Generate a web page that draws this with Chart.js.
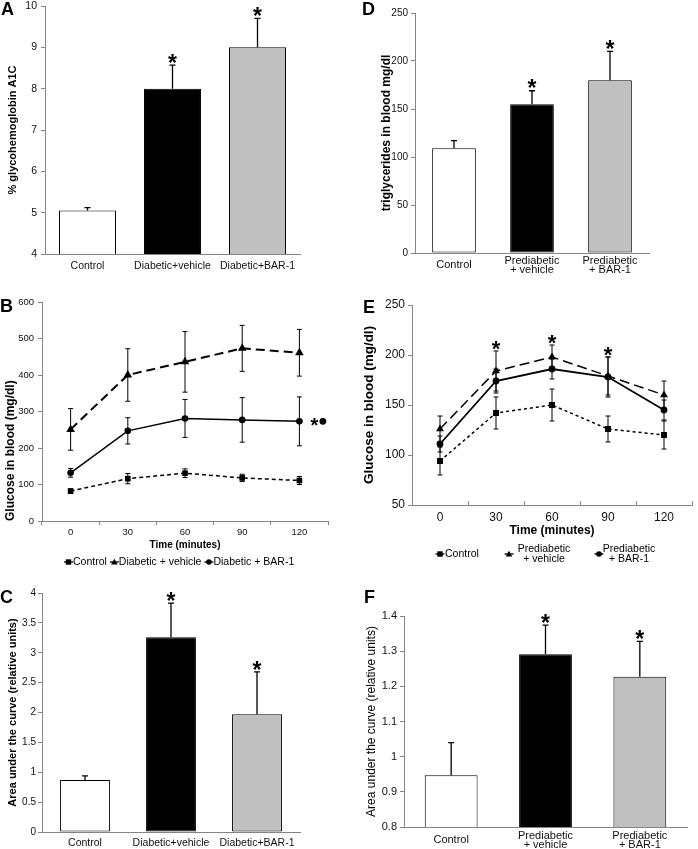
<!DOCTYPE html>
<html>
<head>
<meta charset="utf-8">
<script src="https://cdn.jsdelivr.net/npm/chart.js@4.4.1/dist/chart.umd.min.js"></script>
<style>
  html, body { margin: 0; padding: 0; background: #fff; }
  #wrap { position: relative; width: 698px; height: 849px; background: #fff; overflow: hidden; }
  canvas { position: absolute; }
</style>
</head>
<body>
<div id="wrap">
  <canvas id="panelA"></canvas>
  <canvas id="panelD"></canvas>
  <canvas id="panelB"></canvas>
  <canvas id="panelE"></canvas>
  <canvas id="panelC"></canvas>
  <canvas id="panelF"></canvas>
</div>
<script>
// ---- data ----
const diabeticGroups = ['Control', 'Diabetic+vehicle', 'Diabetic+BAR-1'];
const prediabeticGroups = ['Control', ['Prediabetic', '+ vehicle'], ['Prediabetic', '+ BAR-1']];
const timePoints = ['0', '30', '60', '90', '120'];

// A: glycohemoglobin
const hba1c = [5.05, 8.0, 9.0];
const hba1cErr = [0.07, 0.57, 0.7];
// D: triglycerides
const triglycerides = [109, 155, 180];
const triglyceridesErr = [8, 14, 30];
// C: AUC diabetic
const aucDiabetic = [0.87, 3.26, 1.97];
const aucDiabeticErr = [0.07, 0.57, 0.71];
// F: AUC prediabetic
const aucPrediabetic = [0.947, 1.291, 1.227];
const aucPrediabeticErr = [0.093, 0.083, 0.101];

// B: glucose tolerance, diabetic
const gttDiabControl = [82, 116, 131, 118, 111];
const gttDiabControlErr = [6, 14, 12, 10, 11];
const gttDiabVehicle = [251, 400, 436, 473, 461];
const gttDiabVehicleErr = [57, 72, 83, 63, 64];
const gttDiabBar1 = [132, 247, 281, 277, 273];
const gttDiabBar1Err = [12, 36, 52, 61, 67];

// E: glucose tolerance, prediabetic
const gttPreControl = [94, 142, 150, 126, 120];
const gttPreControlErr = [14, 16, 16, 13, 14];
const gttPreVehicle = [126, 184, 198, 179, 160];
const gttPreVehicleErr = [13, 20, 12, 19, 14];
const gttPreBar1 = [111, 174, 186, 178, 145];
const gttPreBar1Err = [8, 12, 10, 20, 10];

const barFills = ['#ffffff', '#000000', '#c0c0c0'];
const FONT = "'Liberation Sans', Arial, Helvetica, sans-serif";
const AXIS = '#858585';

Chart.defaults.font.family = FONT;
Chart.defaults.color = '#1a1a1a';
Chart.defaults.animation = false;
Chart.defaults.plugins.legend.display = false;
Chart.defaults.plugins.tooltip.enabled = false;

// ---- plugins ----
const errorBars = {
  id: 'errorBars',
  afterDatasetsDraw(chart) {
    const ctx = chart.ctx;
    const yScale = chart.scales.y;
    chart.data.datasets.forEach((ds, i) => {
      if (!ds.err) return;
      const meta = chart.getDatasetMeta(i);
      const cap = ds.errCap || 3;
      ctx.save();
      ctx.strokeStyle = '#000';
      ctx.lineWidth = ds.errWidth || 1;
      meta.data.forEach((el, j) => {
        const v = ds.data[j], e = ds.err[j];
        const yTop = yScale.getPixelForValue(v + e);
        const yBot = yScale.getPixelForValue(ds.errUpOnly ? v : v - e);
        ctx.beginPath();
        ctx.moveTo(el.x, yTop); ctx.lineTo(el.x, yBot);
        ctx.moveTo(el.x - cap, yTop); ctx.lineTo(el.x + cap, yTop);
        if (!ds.errUpOnly) { ctx.moveTo(el.x - cap, yBot); ctx.lineTo(el.x + cap, yBot); }
        ctx.stroke();
      });
      ctx.restore();
    });
  }
};

const stars = {
  id: 'stars',
  afterDatasetsDraw(chart, args, opts) {
    if (!opts.at) return;
    const ctx = chart.ctx;
    const size = opts.size || 20;
    ctx.save();
    ctx.font = 'bold ' + size + 'px ' + FONT;
    ctx.fillStyle = '#000';
    ctx.textAlign = 'center';
    ctx.textBaseline = 'alphabetic';
    opts.at.forEach(j => {
      let top = -Infinity;
      chart.data.datasets.forEach(ds => {
        top = Math.max(top, ds.data[j] + (ds.err ? ds.err[j] : 0));
      });
      const py = chart.scales.y.getPixelForValue(top);
      ctx.fillText('*', chart.scales.x.getPixelForValue(j), py - 4 + 0.42 * size);
    });
    ctx.restore();
  }
};

const sideMark = {
  id: 'sideMark',
  afterDatasetsDraw(chart, args, opts) {
    if (opts.dataset === undefined) return;
    const ctx = chart.ctx;
    const meta = chart.getDatasetMeta(opts.dataset);
    const last = meta.data[meta.data.length - 1];
    ctx.save();
    ctx.fillStyle = '#000';
    ctx.font = 'bold 20px ' + FONT;
    ctx.textAlign = 'center';
    ctx.textBaseline = 'alphabetic';
    ctx.fillText('*', last.x + 15, last.y + 11);
    ctx.beginPath();
    ctx.arc(last.x + 23.5, last.y, 3.4, 0, Math.PI * 2);
    ctx.fill();
    ctx.restore();
  }
};

const panelLetter = {
  id: 'panelLetter',
  afterDraw(chart, args, opts) {
    if (!opts.text) return;
    const ctx = chart.ctx;
    ctx.save();
    ctx.fillStyle = '#000';
    ctx.font = 'bold 18px ' + FONT;
    ctx.textAlign = 'left';
    ctx.textBaseline = 'alphabetic';
    ctx.fillText(opts.text, opts.x, opts.y);
    ctx.restore();
  }
};

function drawMarker(ctx, style, x, y) {
  ctx.beginPath();
  ctx.lineWidth = 1.3;
  ctx.moveTo(x - 4.5, y); ctx.lineTo(x + 4.5, y);
  ctx.stroke();
  ctx.beginPath();
  if (style === 'rect') {
    ctx.rect(x - 2.7, y - 2.7, 5.4, 5.4);
  } else if (style === 'triangle') {
    ctx.moveTo(x, y - 3.3); ctx.lineTo(x + 3.3, y + 2.4); ctx.lineTo(x - 3.3, y + 2.4); ctx.closePath();
  } else {
    ctx.arc(x, y, 2.8, 0, Math.PI * 2);
  }
  ctx.fill();
}

const markerLegend = {
  id: 'markerLegend',
  afterDraw(chart, args, opts) {
    if (!opts.size) return;
    const ctx = chart.ctx;
    ctx.save();
    ctx.fillStyle = '#000';
    ctx.strokeStyle = '#000';
    ctx.font = opts.size + 'px ' + FONT;
    ctx.textBaseline = 'middle';
    const order = opts.order;
    if (opts.flow) {
      let x = opts.x;
      order.forEach(i => {
        const ds = chart.data.datasets[i];
        drawMarker(ctx, ds.pointStyle, x + 4.5, opts.y);
        ctx.textAlign = 'left';
        ctx.fillText(ds.label, x + 9, opts.y);
        x += 9 + ctx.measureText(ds.label).width + opts.gap;
      });
    } else {
      order.forEach((i, k) => {
        const ds = chart.data.datasets[i];
        const spot = opts.spots[k];
        drawMarker(ctx, ds.pointStyle, spot.mx, opts.y);
        const lines = [].concat(ds.label);
        ctx.textAlign = spot.align;
        lines.forEach((t, n) => {
          ctx.fillText(t, spot.tx, opts.y + (n - (lines.length - 1) / 2) * opts.lineGap);
        });
      });
    }
    ctx.restore();
  }
};

// ---- layout helpers ----
function fixBox(size, horizontal) {
  return s => {
    if (horizontal) s.height = size; else s.width = size;
    s.paddingLeft = s.paddingRight = s.paddingTop = s.paddingBottom = 0;
  };
}

function panel(id, box, area, config) {
  const canvas = document.getElementById(id);
  canvas.width = box.w;
  canvas.height = box.h;
  canvas.style.left = box.x + 'px';
  canvas.style.top = box.y + 'px';
  const o = config.options;
  o.responsive = false;
  o.layout = { padding: { left: 0, top: area.y0 - box.y, right: box.x + box.w - area.x1, bottom: 0 } };
  o.scales.x.afterFit = fixBox(box.y + box.h - area.y1, true);
  o.scales.y.afterFit = fixBox(area.x0 - box.x, false);
  config.plugins = [errorBars, stars, sideMark, panelLetter, markerLegend];
  return new Chart(canvas, config);
}

function catAxis(size, pad, extra) {
  return Object.assign({
    type: 'category',
    grid: { display: true, drawOnChartArea: false, drawTicks: false, color: AXIS },
    border: { color: AXIS, width: 1 },
    ticks: { font: { size: size }, padding: pad, maxRotation: 0, autoSkip: false, color: '#111' }
  }, extra || {});
}

function valAxis(min, max, step, size, pad, title) {
  return {
    min: min, max: max,
    grid: { drawOnChartArea: false, drawTicks: true, tickLength: 4, color: AXIS },
    border: { color: AXIS, width: 1 },
    ticks: { stepSize: step, font: { size: size }, padding: pad, color: '#111', callback: v => +v.toFixed(2) },
    title: Object.assign({ display: true, color: '#000' }, title)
  };
}

function barSet(values, errs, pct) {
  return {
    data: values, err: errs, errUpOnly: true, errWidth: 1.3, errCap: 3,
    backgroundColor: barFills, borderColor: '#000', borderWidth: 1, borderSkipped: false,
    barPercentage: pct, categoryPercentage: 1
  };
}

function lineSet(label, values, errs, style, dash, width, radius) {
  return {
    label: label, data: values, err: errs, errWidth: 1, errCap: 2.5,
    pointStyle: style, borderDash: dash, borderWidth: width, pointRadius: radius, pointBorderWidth: 0,
    borderColor: '#000', backgroundColor: '#000', pointBackgroundColor: '#000', pointBorderColor: '#000',
    tension: 0, fill: false
  };
}

// ---- A ----
panel('panelA', { x: 0, y: 0, w: 349, h: 285 }, { x0: 45, x1: 300, y0: 6, y1: 254 }, {
  type: 'bar',
  data: { labels: diabeticGroups, datasets: [barSet(hba1c, hba1cErr, 0.67)] },
  options: {
    plugins: { stars: { at: [1, 2], size: 23 }, panelLetter: { text: 'A', x: 1, y: 15 } },
    scales: {
      x: catAxis(10.5, 6),
      y: valAxis(4, 10, 1, 10.5, 4, { text: '% glycohemoglobin A1C', font: { size: 11, weight: 'bold' }, padding: { top: 6 } })
    }
  }
});

// ---- D ----
panel('panelD', { x: 349, y: 0, w: 349, h: 285 }, { x0: 415, x1: 649, y0: 13, y1: 253 }, {
  type: 'bar',
  data: { labels: prediabeticGroups, datasets: [barSet(triglycerides, triglyceridesErr, 0.56)] },
  options: {
    plugins: { stars: { at: [1, 2], size: 23 }, panelLetter: { text: 'D', x: 13, y: 15 } },
    scales: {
      x: (() => { const a = catAxis(11, 8); a.ticks.font.lineHeight = 0.8; a.ticks.crossAlign = 'center'; return a; })(),
      y: valAxis(0, 250, 50, 10, 3, { text: 'triglycerides in blood mg/dl', font: { size: 12, weight: 'bold' }, padding: { top: 30 } })
    }
  }
});

// ---- B ----
panel('panelB', { x: 0, y: 285, w: 349, h: 290 }, { x0: 42, x1: 328, y0: 302, y1: 521 }, {
  type: 'line',
  data: {
    labels: timePoints,
    datasets: [
      lineSet('Control', gttDiabControl, gttDiabControlErr, 'rect', [4, 3], 1.5, 4),
      lineSet('Diabetic + vehicle', gttDiabVehicle, gttDiabVehicleErr, 'triangle', [9, 5], 2, 5),
      lineSet('Diabetic + BAR-1', gttDiabBar1, gttDiabBar1Err, 'circle', [], 1.5, 3.3)
    ]
  },
  options: {
    plugins: {
      sideMark: { dataset: 2 },
      panelLetter: { text: 'B', x: 0, y: 27 },
      markerLegend: { flow: true, x: 64, y: 277, size: 10.5, gap: 3, order: [0, 1, 2] }
    },
    scales: {
      x: catAxis(9.5, 2, {
        offset: true,
        grid: { display: true, offset: true, drawOnChartArea: false, drawTicks: true, tickLength: 4, color: AXIS },
        title: { display: true, text: 'Time (minutes)', color: '#000', font: { size: 10, weight: 'bold' }, padding: { bottom: 24 } }
      }),
      y: valAxis(0, 600, 100, 9.5, 4, { text: 'Glucose in blood (mg/dl)', align: 'start', font: { size: 12, weight: 'bold' }, padding: { top: 3 } })
    }
  }
});

// ---- E ----
panel('panelE', { x: 349, y: 285, w: 349, h: 290 }, { x0: 412, x1: 692, y0: 305, y1: 505 }, {
  type: 'line',
  data: {
    labels: timePoints,
    datasets: [
      lineSet('Control', gttPreControl, gttPreControlErr, 'rect', [3, 3], 1.5, 4.2),
      lineSet(['Prediabetic', '+ vehicle'], gttPreVehicle, gttPreVehicleErr, 'triangle', [10, 5], 1.5, 4.6),
      lineSet(['Prediabetic', '+ BAR-1'], gttPreBar1, gttPreBar1Err, 'circle', [], 1.8, 3.4)
    ]
  },
  options: {
    plugins: {
      stars: { at: [1, 2, 3], size: 22 },
      panelLetter: { text: 'E', x: 14, y: 28 },
      markerLegend: {
        flow: false, y: 269, size: 10.5, lineGap: 10, order: [0, 1, 2],
        spots: [{ mx: 91, tx: 96, align: 'left' }, { mx: 160, tx: 195, align: 'center' }, { mx: 250, tx: 280, align: 'center' }]
      }
    },
    scales: {
      x: catAxis(12, 9, {
        offset: true,
        grid: { display: true, offset: true, drawOnChartArea: false, drawTicks: true, tickLength: -4, color: AXIS },
        title: { display: true, text: 'Time (minutes)', color: '#000', font: { size: 12, weight: 'bold' }, padding: { bottom: 37 } }
      }),
      y: valAxis(50, 250, 50, 12, 3, { text: 'Glucose in blood (mg/dl)', font: { size: 13.5, weight: 'bold' }, padding: { top: 12 } })
    }
  }
});

// ---- C ----
panel('panelC', { x: 0, y: 575, w: 349, h: 274 }, { x0: 42, x1: 300, y0: 593, y1: 832 }, {
  type: 'bar',
  data: { labels: diabeticGroups, datasets: [barSet(aucDiabetic, aucDiabeticErr, 0.58)] },
  options: {
    plugins: { stars: { at: [1, 2], size: 23 }, panelLetter: { text: 'C', x: 0, y: 28 } },
    scales: {
      x: catAxis(10.5, 5),
      y: valAxis(0, 4, 0.5, 10, 2, { text: 'Area under the curve (relative units)', font: { size: 11, weight: 'bold' }, padding: { top: 6 } })
    }
  }
});

// ---- F ----
panel('panelF', { x: 349, y: 575, w: 349, h: 274 }, { x0: 404, x1: 687, y0: 616, y1: 827 }, {
  type: 'bar',
  data: { labels: prediabeticGroups, datasets: [barSet(aucPrediabetic, aucPrediabeticErr, 0.56)] },
  options: {
    plugins: { stars: { at: [1, 2], size: 23 }, panelLetter: { text: 'F', x: 15, y: 28 } },
    scales: {
      x: (() => { const a = catAxis(11, 9); a.ticks.font.lineHeight = 0.8; a.ticks.crossAlign = 'center'; return a; })(),
      y: valAxis(0.8, 1.4, 0.1, 11, 3, { text: 'Area under the curve (relative units)', font: { size: 12 }, padding: { top: 15 } })
    }
  }
});
</script>
</body>
</html>
